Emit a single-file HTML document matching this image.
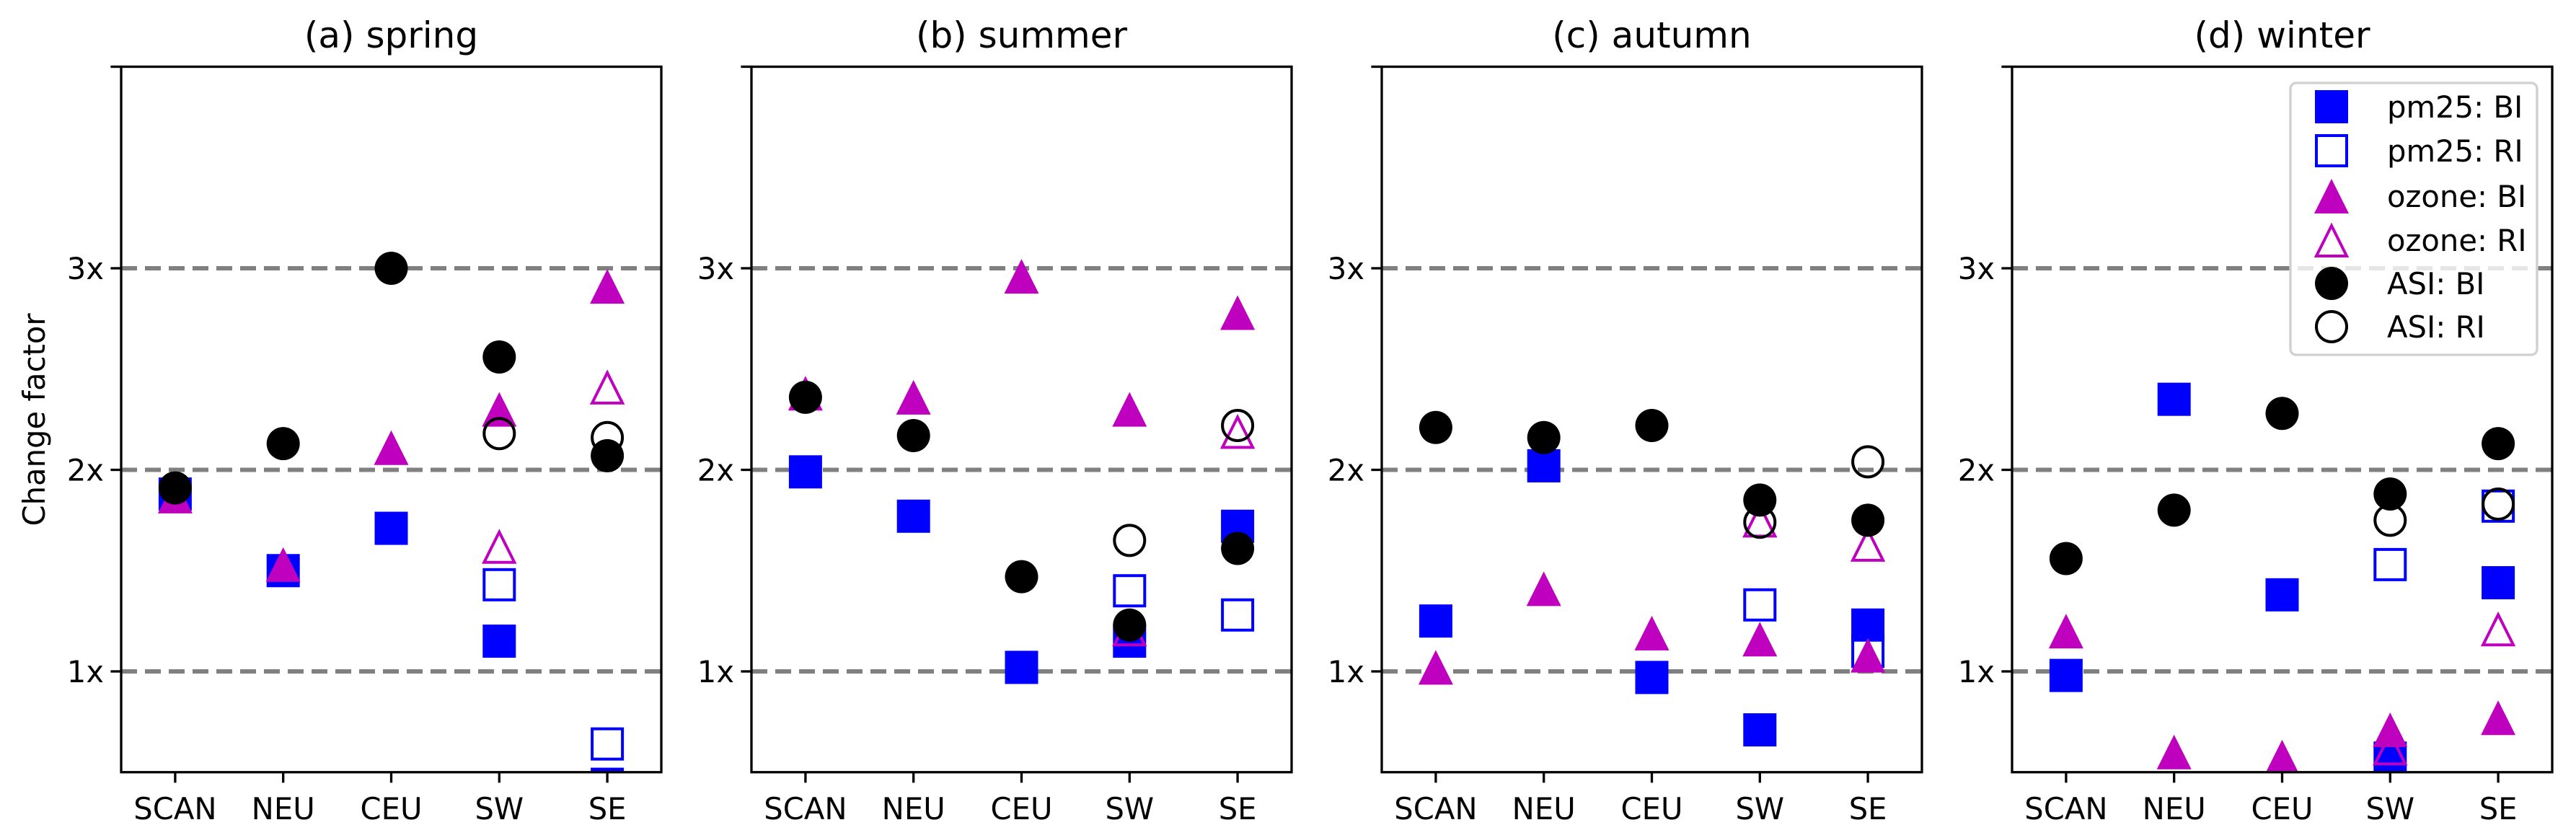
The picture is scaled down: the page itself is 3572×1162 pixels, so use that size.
<!DOCTYPE html>
<html><head><meta charset="utf-8">
<style>
html,body{margin:0;padding:0;background:#fff;}
svg{display:block;}
text{font-family:"DejaVu Sans","Liberation Sans",sans-serif;fill:#000;}
</style></head>
<body>
<svg id="chart" width="3572" height="1162" viewBox="0 0 3572 1162" xmlns="http://www.w3.org/2000/svg"></svg>
<script>
const categories = ["SCAN","NEU","CEU","SW","SE"];
const seasons = ["(a) spring","(b) summer","(c) autumn","(d) winter"];
const yTickValues = [1,2,3];
const yTickLabels = ["1x","2x","3x"];
const seriesNames = ["pm25: BI","pm25: RI","ozone: BI","ozone: RI","ASI: BI","ASI: RI"];
// values per season: [SCAN, NEU, CEU, SW, SE]
const pm25BI = [
  [1.88,1.50,1.71,1.15,0.44],
  [1.99,1.77,1.02,1.15,1.72],
  [1.25,2.02,0.97,0.71,1.23],
  [0.98,2.35,1.38,0.57,1.44]];
const pm25RI = [
  [null,null,null,1.43,0.64],
  [null,null,null,1.40,1.28],
  [null,null,null,1.33,1.10],
  [null,null,null,1.53,1.82]];
const ozoneBI = [
  [1.87,1.53,2.11,2.30,2.91],
  [2.38,2.36,2.96,2.30,2.78],
  [1.02,1.41,1.19,1.16,1.08],
  [1.20,0.60,0.575,0.71,0.77]];
const ozoneRI = [
  [null,null,null,1.62,2.41],
  [null,null,null,1.21,2.19],
  [null,null,null,1.75,1.63],
  [null,null,null,0.62,1.21]];
const asiBI = [
  [1.91,2.13,3.00,2.56,2.07],
  [2.36,2.17,1.47,1.23,1.61],
  [2.21,2.16,2.22,1.85,1.75],
  [1.56,1.80,2.28,1.88,2.13]];
const asiRI = [
  [null,null,null,2.18,2.16],
  [null,null,null,1.65,2.22],
  [null,null,null,1.74,2.04],
  [null,null,null,1.75,1.83]];

const NS="http://www.w3.org/2000/svg";
const svg=document.getElementById('chart');
function el(tag,attrs,parent){const e=document.createElementNS(NS,tag);for(const k in attrs)e.setAttribute(k,attrs[k]);(parent||svg).appendChild(e);return e;}

const panelLeft=[168,1042,1916,2790], pw=749, axTop=92.5, axBottom=1070.75;
const yMin=0.5,yMax=4;
function yScale(v){return axBottom-(v-yMin)/(yMax-yMin)*(axBottom-axTop);}
function xScale(p,i){return panelLeft[p]+(i+0.5)/categories.length*pw;}

function marker(g,type,x,y,name){
  let m;
  const h=23;
  if(type==='sq'||type==='sqo'){
    const o=type==='sqo';
    m=el('rect',{x:x-h+(o?2:0),y:y-h+(o?2:0),width:2*h-(o?4:0),height:2*h-(o?4:0),fill:o?'none':'#0000ff',stroke:o?'#0000ff':'none','stroke-width':4},g);
  } else if(type==='tri'||type==='trio'){
    const o=type==='trio'; const w=24,hh=24, d=o?2:0;
    m=el('polygon',{points:`${x},${y-hh+d*2} ${x-w+d*1.5},${y+hh-d} ${x+w-d*1.5},${y+hh-d}`,fill:o?'none':'#bf00bf',stroke:o?'#bf00bf':'none','stroke-width':4},g);
  } else {
    const o=type==='cio';
    m=el('circle',{cx:x,cy:y,r:o?21:23,fill:o?'none':'#000',stroke:o?'#000':'none','stroke-width':4},g);
  }
  
  
  return m;
}

const seriesData=[pm25BI,pm25RI,ozoneBI,ozoneRI,asiBI,asiRI];
const seriesTypes=['sq','sqo','tri','trio','ci','cio'];
const seriesKeys=['pm25-bi','pm25-ri','ozone-bi','ozone-ri','asi-bi','asi-ri'];

for(let p=0;p<4;p++){
  const L=panelLeft[p];
  const g=el('g',{});
  
  
  const t=el('text',{x:L+pw/2,y:66,'text-anchor':'middle','font-size':50},g);
  t.textContent=seasons[p];
  
  
  const clipId='clip'+p;
  const cp=el('clipPath',{id:clipId},g);
  el('rect',{x:L,y:axTop,width:pw,height:axBottom-axTop},cp);
  yTickValues.forEach((v,i)=>{
    const y=yScale(v);
    const ln=el('line',{x1:L,x2:L+pw,y1:y,y2:y,stroke:'#808080','stroke-width':6,'stroke-dasharray':'22 11'},g);
    
    
    const tk=el('line',{x1:L-14.6,x2:L,y1:y,y2:y,stroke:'#000','stroke-width':3.3},g);
    
    
    const tl=el('text',{x:L-24,y:y+15,'text-anchor':'end','font-size':41.7},g);
    tl.textContent=yTickLabels[i];
    
    
  });
  const tk4=el('line',{x1:L-14.6,x2:L,y1:yScale(4),y2:yScale(4),stroke:'#000','stroke-width':3.3},g);
  
  
  const mg=el('g',{'clip-path':`url(#${clipId})`},g);
  
  
  seriesData.forEach((arr,s)=>{
    arr[p].forEach((v,i)=>{
      if(v===null)return;
      marker(mg,seriesTypes[s],xScale(p,i),yScale(v),seriesKeys[s]+'-'+categories[i].toLowerCase());
    });
  });
  const fr=el('rect',{x:L,y:axTop,width:pw,height:axBottom-axTop,fill:'none',stroke:'#000','stroke-width':3.3},g);
  
  
  categories.forEach((c,i)=>{
    const x=xScale(p,i);
    const tk=el('line',{x1:x,x2:x,y1:axBottom,y2:axBottom+14.6,stroke:'#000','stroke-width':3.3},g);
    
    
    const tl=el('text',{x:x,y:1136,'text-anchor':'middle','font-size':41.7},g);
    tl.textContent=c;
    
    
  });
}
const yl=el('text',{x:0,y:0,'text-anchor':'middle','font-size':41.7,transform:'translate(62,582) rotate(-90)'});
yl.textContent='Change factor';



const lg=el('g',{});


el('rect',{x:3176,y:115,width:342,height:377,rx:8,fill:'#fff','fill-opacity':0.8,stroke:'#d0d0d0','stroke-width':3.3},lg);
const legendY=[148,209,272,333,393,453];
seriesNames.forEach((n,s)=>{
  const eg=el('g',{},lg);
  
  
  marker(eg,seriesTypes[s],3233,legendY[s],'legend-marker-'+seriesKeys[s]);
  const t=el('text',{x:3310,y:legendY[s]+15,'font-size':41.7},eg);
  t.textContent=n;
  
  
});
</script>
</body></html>
